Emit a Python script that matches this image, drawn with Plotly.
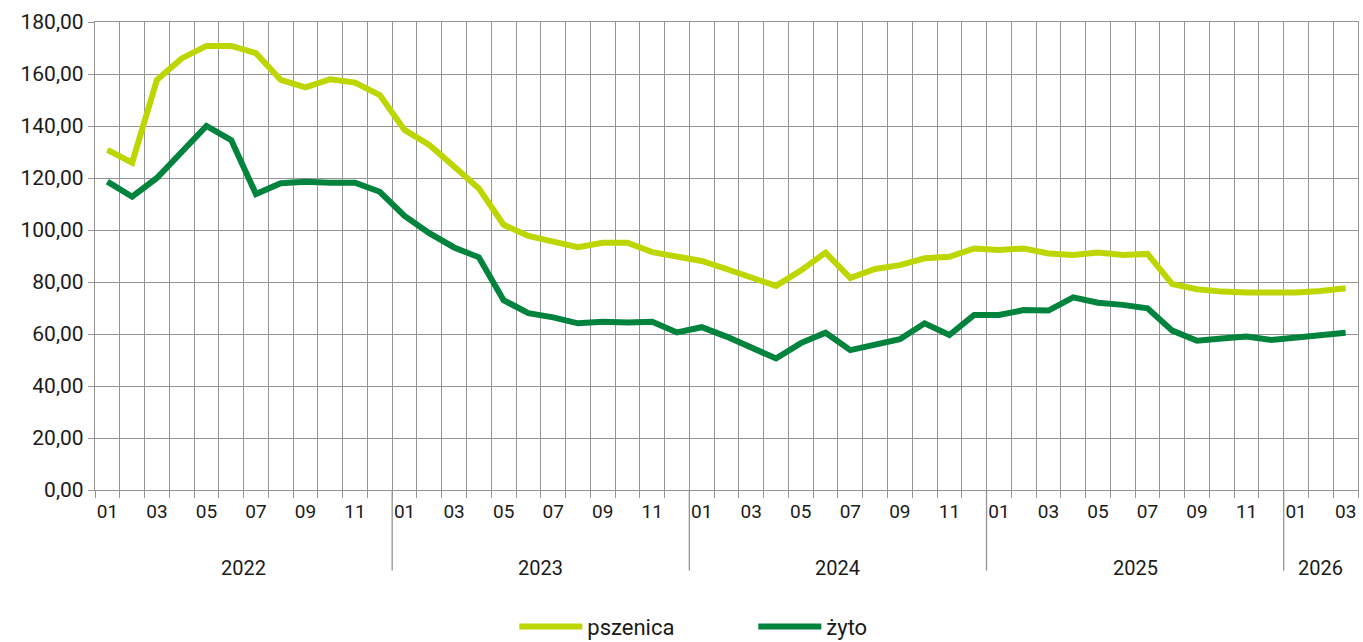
import plotly.graph_objects as go

years = ["2022", "2023", "2024", "2025", "2026"]
months_per_year = [12, 12, 12, 12, 3]
month_labels = [f"{m:02d}" for n in months_per_year for m in range(1, n + 1)]
year_of = [y for y, n in zip(years, months_per_year) for _ in range(n)]

pszenica = [
    130.8, 125.9, 157.7, 166.0, 170.8, 170.8, 168.0, 157.7, 154.9, 158.0, 156.7, 151.9,
    138.5, 132.7, 124.4, 116.0, 102.0, 97.7, 95.5, 93.4, 95.1, 95.1, 91.5, 89.6,
    88.1, 85.0, 81.5, 78.5, 84.4, 91.3, 81.5, 85.0, 86.5, 89.1, 89.7, 92.9,
    92.3, 92.9, 91.0, 90.4, 91.3, 90.4, 90.8, 79.2, 77.2, 76.3, 76.0, 75.9,
    76.0, 76.5, 77.6,
]
zyto = [
    118.6, 112.8, 120.0, 130.0, 140.0, 134.6, 113.8, 118.0, 118.6, 118.2, 118.2, 114.7,
    105.4, 98.8, 93.3, 89.5, 73.0, 68.0, 66.4, 64.1, 64.7, 64.4, 64.7, 60.6,
    62.6, 59.0, 54.7, 50.6, 56.5, 60.5, 53.8, 55.8, 58.0, 64.1, 59.6, 67.3,
    67.3, 69.2, 69.0, 74.1, 72.0, 71.2, 69.9, 61.3, 57.4, 58.3, 59.0, 57.7,
    58.7, 59.2, 60.5,
]

series_names = ["pszenica", "żyto"]
series_colors = ["#BED600", "#00843D"]

n = len(month_labels)
xs = list(range(n))
GRID = "#949494"
FONT = "Roboto"

fig = go.Figure()
for name, vals, col in zip(series_names, [pszenica, zyto], series_colors):
    fig.add_trace(go.Scatter(x=xs, y=vals, mode="lines", name=name,
                             line=dict(color=col, width=6)))

# year separators and labels
shapes = []
annotations = []
for i in range(1, n):
    if month_labels[i] == "01":
        shapes.append(dict(type="line", xref="x", yref="paper", x0=i - 0.5, x1=i - 0.5,
                           y0=0, y1=-0.172, line=dict(color=GRID, width=1.3)))
for y in years:
    idx = [i for i in range(n) if year_of[i] == y]
    annotations.append(dict(xref="x", yref="paper", x=(idx[0] + idx[-1]) / 2, y=-0.167,
                            text=y, showarrow=False, yanchor="middle",
                            font=dict(family=FONT, size=20, color="#1a1a1a")))

fig.update_layout(
    width=1363, height=642,
    margin=dict(l=95, r=5, t=22, b=152, autoexpand=False),
    paper_bgcolor="white", plot_bgcolor="white",
    separators=",.",
    showlegend=True,
    legend=dict(orientation="h", x=0.332, xanchor="left", y=-0.292, yanchor="middle",
                font=dict(family=FONT, size=22, color="#1a1a1a"), entrywidth=161,
                entrywidthmode="pixels", itemwidth=63),
    shapes=shapes,
    annotations=annotations,
    xaxis=dict(
        range=[-0.5, n - 0.5],
        automargin=False,
        tickmode="array",
        tickvals=xs[::2],
        ticktext=month_labels[::2],
        ticks="",
        showgrid=False,
        zeroline=False,
        showline=True, linecolor=GRID, linewidth=1.3, mirror=True,
        tickfont=dict(family=FONT, size=19, color="#1a1a1a"),
        ticklabelstandoff=4,
        minor=dict(tickmode="array", tickvals=[i - 0.5 for i in range(n + 1)],
                   showgrid=True, gridcolor=GRID, gridwidth=1.3,
                   ticks="outside", ticklen=7, tickcolor=GRID, tickwidth=1.3),
    ),
    yaxis=dict(
        range=[0, 180],
        automargin=False,
        tick0=0, dtick=20,
        tickformat=".2f",
        showgrid=True, gridcolor=GRID, gridwidth=1.3,
        zeroline=False,
        showline=True, linecolor=GRID, linewidth=1.3, mirror=True,
        ticks="outside", ticklen=6, tickcolor=GRID, tickwidth=1.3,
        tickfont=dict(family=FONT, size=21, color="#1a1a1a"),
    ),
)

fig.write_html("out.html", config={"displayModeBar": False},
               post_script="document.body.style.margin='0';document.body.style.overflow='hidden';")
